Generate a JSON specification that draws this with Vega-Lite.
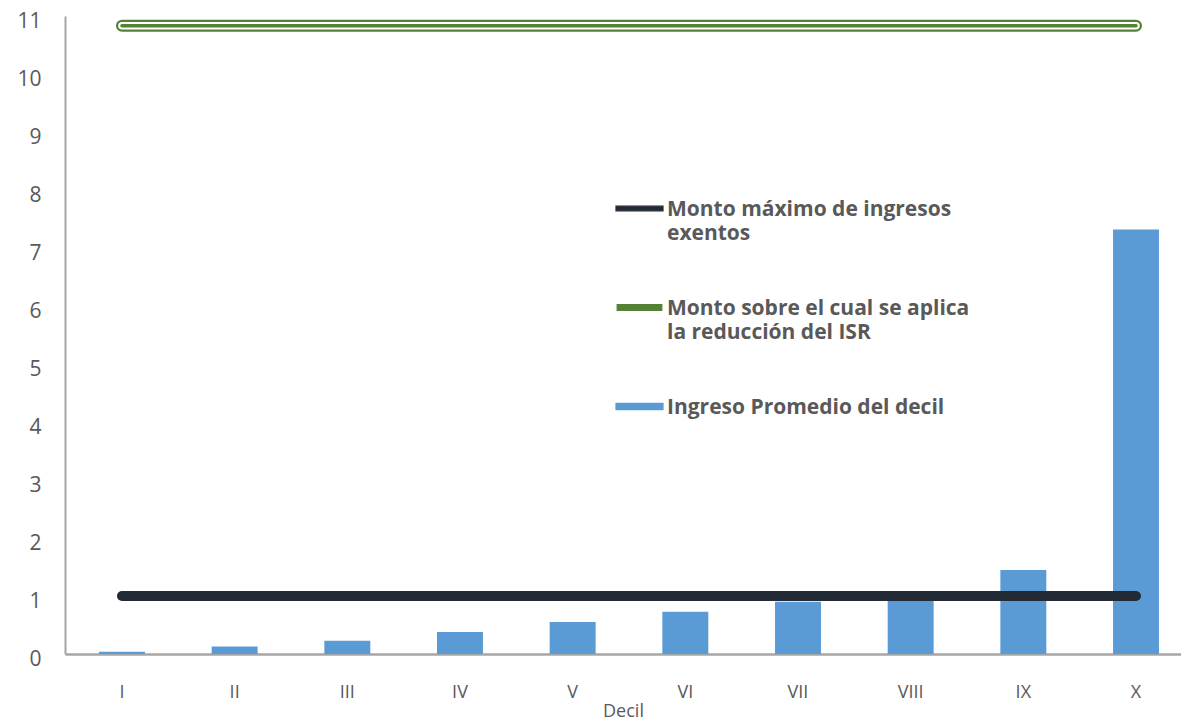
{
  "$schema": "https://vega.github.io/schema/vega-lite/v6.json",
  "autosize": {"type": "none"},
  "padding": {"left": 65, "top": 16, "right": 0, "bottom": 66},
  "width": 1116,
  "height": 638,
  "background": "white",
  "config": {"view": {"stroke": null}},
  "data": {"values": [
    {"decil": "I", "ingreso": 0.04, "monto_max": 1.0, "monto_isr": 10.83},
    {"decil": "II", "ingreso": 0.13, "monto_max": 1.0, "monto_isr": 10.83},
    {"decil": "III", "ingreso": 0.23, "monto_max": 1.0, "monto_isr": 10.83},
    {"decil": "IV", "ingreso": 0.38, "monto_max": 1.0, "monto_isr": 10.83},
    {"decil": "V", "ingreso": 0.55, "monto_max": 1.0, "monto_isr": 10.83},
    {"decil": "VI", "ingreso": 0.73, "monto_max": 1.0, "monto_isr": 10.83},
    {"decil": "VII", "ingreso": 0.9, "monto_max": 1.0, "monto_isr": 10.83},
    {"decil": "VIII", "ingreso": 0.97, "monto_max": 1.0, "monto_isr": 10.83},
    {"decil": "IX", "ingreso": 1.45, "monto_max": 1.0, "monto_isr": 10.83},
    {"decil": "X", "ingreso": 7.32, "monto_max": 1.0, "monto_isr": 10.83}
  ]},
  "encoding": {
    "x": {
      "field": "decil", "type": "ordinal", "sort": null,
      "scale": {"paddingInner": 0.592, "paddingOuter": 0.2485, "align": 0.607},
      "axis": {
        "title": "Decil", "labelAngle": 0, "ticks": false, "grid": false,
        "domainColor": "#a6a6a6", "domainWidth": 2.5,
        "labelFont": "Open Sans", "labelFontSize": 18, "labelColor": "#595959", "labelPadding": 29,
        "titleFont": "Open Sans", "titleFontSize": 18, "titleFontWeight": "normal", "titleColor": "#595959", "titlePadding": 1
      }
    }
  },
  "layer": [
    {
      "mark": {"type": "bar"},
      "encoding": {
        "y": {
          "field": "ingreso", "type": "quantitative",
          "scale": {"domain": [0, 11], "nice": false},
          "axis": {
            "title": null, "values": [0,1,2,3,4,5,6,7,8,9,10,11], "format": "d", "grid": false, "ticks": false,
            "domainColor": "#a6a6a6", "domainWidth": 2,
            "labelFont": "Open Sans", "labelFontSize": 21, "labelColor": "#595959", "labelPadding": 24, "labelOffset": 5
          }
        },
        "color": {
          "datum": "Ingreso Promedio del decil",
          "scale": {
            "domain": ["Monto máximo de ingresos exentos", "Monto sobre el cual se aplica la reducción del ISR", "Ingreso Promedio del decil"],
            "range": ["#222a35", "#548235", "#5b9bd5"]
          },
          "legend": {
            "orient": "none", "legendX": 550, "legendY": 168, "title": null, "padding": 0,
            "labelFont": "Open Sans", "labelFontSize": 21, "labelFontWeight": "bold", "labelColor": "#595959",
            "labelLimit": 600, "symbolSize": 2209, "rowPadding": 39, "labelOffset": 3,
            "labelBaseline": "alphabetic",
            "labelExpr": "datum.value == 'Monto máximo de ingresos exentos' ? ['Monto máximo de ingresos', 'exentos'] : datum.value == 'Monto sobre el cual se aplica la reducción del ISR' ? ['Monto sobre el cual se aplica', 'la reducción del ISR'] : datum.value",
            "encode": {
              "symbols": {"update": {
                "shape": {"signal": "datum.value == 'Ingreso Promedio del decil' ? 'M-1,-0.13H1V0.13H-1Z' : datum.value == 'Monto máximo de ingresos exentos' ? 'M-1,-0.1H1V0.1H-1Z' : 'M-0.95,-0.12H0.95V0.12H-0.95Z'"},
                "fill": {"signal": "datum.value == 'Ingreso Promedio del decil' ? '#5b9bd5' : datum.value == 'Monto máximo de ingresos exentos' ? '#222a35' : 'white'"},
                "stroke": {"signal": "datum.value == 'Monto sobre el cual se aplica la reducción del ISR' ? '#548235' : null"},
                "strokeWidth": {"value": 1.2},
                "opacity": {"value": 1}
              }},
              "labels": {"update": {"dy": {"value": 7}, "lineHeight": {"value": 24}}}
            }
          }
        }
      }
    },
    {
      "mark": {"type": "line", "strokeWidth": 10, "strokeCap": "round"},
      "encoding": {
        "y": {"field": "monto_max", "type": "quantitative"},
        "color": {"datum": "Monto máximo de ingresos exentos"}
      }
    },
    {
      "mark": {"type": "line", "strokeWidth": 12, "strokeCap": "round"},
      "encoding": {
        "y": {"field": "monto_isr", "type": "quantitative"},
        "color": {"datum": "Monto sobre el cual se aplica la reducción del ISR"}
      }
    },
    {
      "mark": {"type": "line", "strokeWidth": 7.5, "strokeCap": "round", "color": "white"},
      "encoding": {
        "y": {"field": "monto_isr", "type": "quantitative"}
      }
    },
    {
      "mark": {"type": "line", "strokeWidth": 3.5, "strokeCap": "round", "color": "#548235"},
      "encoding": {
        "y": {"field": "monto_isr", "type": "quantitative"}
      }
    }
  ],
  "resolve": {"scale": {"y": "shared"}}
}
